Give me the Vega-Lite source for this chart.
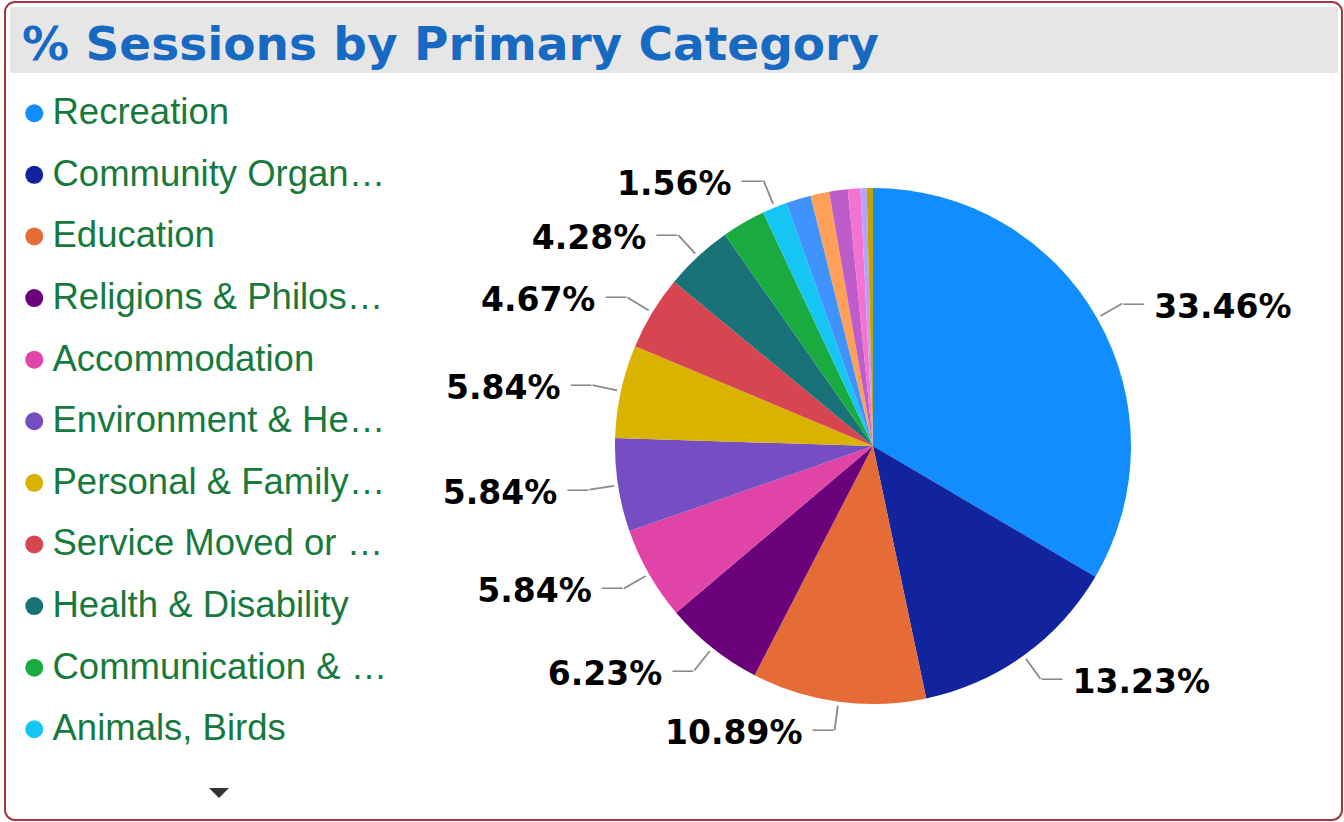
{
  "$schema": "https://vega.github.io/schema/vega-lite/v6.json",
  "width": 1337,
  "height": 818,
  "padding": {"left": 5, "top": 2, "right": 2, "bottom": 2},
  "autosize": {"type": "none"},
  "background": "white",
  "config": {
    "view": {"stroke": "#a6373f", "strokeWidth": 2, "cornerRadius": 10, "fill": "white"}
  },
  "title": {
    "text": "% Sessions by Primary Category",
    "anchor": "start",
    "frame": "group",
    "orient": "top",
    "font": "DejaVu Sans",
    "fontSize": 47,
    "fontWeight": "bold",
    "color": "#1769c2",
    "dx": 17,
    "offset": -105,
    "baseline": "alphabetic"
  },
  "data": {
    "values": [
      {"category": "Recreation", "count": 86, "label": "33.46%"},
      {"category": "Community Organisations", "count": 34, "label": "13.23%"},
      {"category": "Education", "count": 28, "label": "10.89%"},
      {"category": "Religions & Philosophy", "count": 16, "label": "6.23%"},
      {"category": "Accommodation", "count": 15, "label": "5.84%"},
      {"category": "Environment & Heritage", "count": 15, "label": "5.84%"},
      {"category": "Personal & Family Support", "count": 15, "label": "5.84%"},
      {"category": "Service Moved or Closed", "count": 12, "label": "4.67%"},
      {"category": "Health & Disability", "count": 11, "label": "4.28%"},
      {"category": "Communication & Information", "count": 7, "label": ""},
      {"category": "Animals, Birds", "count": 4, "label": "1.56%"},
      {"category": "Employment & Training", "count": 4, "label": ""},
      {"category": "Arts & Culture", "count": 3, "label": ""},
      {"category": "Sport", "count": 3, "label": ""},
      {"category": "Transport", "count": 2, "label": ""},
      {"category": "Volunteering", "count": 1, "label": ""},
      {"category": "Other", "count": 1, "label": ""}
    ]
  },
  "transform": [
    {"window": [{"op": "sum", "field": "count", "as": "cum"}], "frame": [null, 0]},
    {"calculate": "datum.cum - datum.count", "as": "start"},
    {"calculate": "datum.cum - datum.count / 2", "as": "mid"}
  ],
  "layer": [
    {
      "data": {"values": [{"band": "title"}]},
      "mark": {"type": "rect", "fill": "#e6e6e6"},
      "encoding": {
        "x": {"value": 5}, "x2": {"value": 1333},
        "y": {"value": 5}, "y2": {"value": 71}
      }
    },
    {
      "data": {"values": [{"indicator": "more"}]},
      "mark": {"type": "point", "shape": "M-1,-0.5L1,-0.5L0,0.5Z", "filled": true, "fill": "#333333", "stroke": null, "size": 400, "opacity": 1},
      "encoding": {
        "x": {"value": 214},
        "y": {"value": 791}
      }
    },
    {
      "mark": {"type": "arc", "outerRadius": 258},
      "encoding": {
        "x": {"value": 868},
        "y": {"value": 444},
        "theta": {"field": "start", "type": "quantitative", "scale": {"domain": [0, 257], "range": [0, 6.283185307]}, "stack": null},
        "theta2": {"field": "cum"},
        "color": {
          "field": "category",
          "type": "nominal",
          "scale": {
            "domain": ["Recreation", "Community Organisations", "Education", "Religions & Philosophy", "Accommodation", "Environment & Heritage", "Personal & Family Support", "Service Moved or Closed", "Health & Disability", "Communication & Information", "Animals, Birds", "Employment & Training", "Arts & Culture", "Sport", "Transport", "Volunteering", "Other"],
            "range": ["#118DFF", "#12239E", "#E66C37", "#6B007B", "#E044A7", "#744EC2", "#D9B300", "#D64550", "#197278", "#1AAB40", "#15C6F4", "#4092FF", "#FFA058", "#BE5DC9", "#F472D0", "#B5A1FF", "#C4A200"]
          },
          "legend": {
            "orient": "none",
            "legendX": 11,
            "legendY": 93,
            "title": null,
            "padding": 0,
            "values": ["Recreation", "Community Organisations", "Education", "Religions & Philosophy", "Accommodation", "Environment & Heritage", "Personal & Family Support", "Service Moved or Closed", "Health & Disability", "Communication & Information", "Animals, Birds"],
            "symbolType": "circle",
            "symbolSize": 324,
            "symbolStrokeWidth": 0,
            "symbolOpacity": 1,
            "labelFont": "Liberation Sans",
            "labelFontSize": 36.5,
            "labelColor": "#177a3c",
            "labelLimit": 340,
            "labelOffset": 0,
            "rowPadding": 24.6
          }
        }
      }
    },
    {
      "transform": [{"filter": "datum.label != ''"}],
      "mark": {"type": "arc", "innerRadius": 262, "outerRadius": 287, "fill": null, "stroke": "#8a8a8a", "strokeWidth": 1.8},
      "encoding": {
        "x": {"value": 868},
        "y": {"value": 444},
        "theta": {"field": "mid", "type": "quantitative", "stack": null},
        "theta2": {"field": "mid"}
      }
    },
    {
      "transform": [{"filter": "datum.label != '' && datum.mid < 128.5"}],
      "mark": {"type": "text", "text": "\u2014", "font": "DejaVu Sans", "fontSize": 23, "color": "#8a8a8a", "align": "left", "baseline": "middle", "radius": 287},
      "encoding": {
        "x": {"value": 868},
        "y": {"value": 444},
        "theta": {"field": "mid", "type": "quantitative", "stack": null}
      }
    },
    {
      "transform": [{"filter": "datum.label != '' && datum.mid >= 128.5"}],
      "mark": {"type": "text", "text": "\u2014", "font": "DejaVu Sans", "fontSize": 23, "color": "#8a8a8a", "align": "right", "baseline": "middle", "radius": 287},
      "encoding": {
        "x": {"value": 868},
        "y": {"value": 444},
        "theta": {"field": "mid", "type": "quantitative", "stack": null}
      }
    },
    {
      "transform": [{"filter": "datum.label != '' && datum.mid < 128.5"}],
      "mark": {"type": "text", "font": "DejaVu Sans", "fontWeight": "bold", "fontSize": 33, "color": "#000000", "align": "left", "baseline": "middle", "radius": 287, "dx": 32, "dy": 4},
      "encoding": {
        "x": {"value": 868},
        "y": {"value": 444},
        "theta": {"field": "mid", "type": "quantitative", "stack": null},
        "text": {"field": "label"}
      }
    },
    {
      "transform": [{"filter": "datum.label != '' && datum.mid >= 128.5"}],
      "mark": {"type": "text", "font": "DejaVu Sans", "fontWeight": "bold", "fontSize": 33, "color": "#000000", "align": "right", "baseline": "middle", "radius": 287, "dx": -32, "dy": 4},
      "encoding": {
        "x": {"value": 868},
        "y": {"value": 444},
        "theta": {"field": "mid", "type": "quantitative", "stack": null},
        "text": {"field": "label"}
      }
    }
  ]
}
